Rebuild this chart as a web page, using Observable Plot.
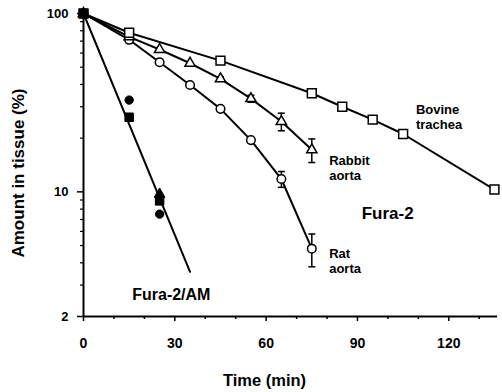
<!DOCTYPE html>
<html>
<head>
<meta charset="utf-8">
<script src="https://cdn.jsdelivr.net/npm/d3@7"></script>
<script src="https://cdn.jsdelivr.net/npm/@observablehq/plot@0.6"></script>
<style>
  html, body { margin: 0; padding: 0; background: #fff; }
  #chart svg { display: block; }
</style>
</head>
<body>
<div id="chart"></div>
<script>
// ---- data ----
const bovineTime   = [0, 15, 45, 75, 85, 95, 105, 135];
const bovineValue  = [100, 78, 54.4, 35.7, 30.0, 25.4, 21.1, 10.3];
const bovineErr    = [0, 0, 0, 0, 0.6, 0.9, 0, 0];

const rabbitTime   = [0, 15, 25, 35, 45, 55, 65, 75];
const rabbitValue  = [100, 74, 62.8, 52.6, 43.0, 33.3, 24.8, 17.2];
const rabbitErr    = [0, 0, 0, 0, 1.2, 1.5, 2.8, 2.6];

const ratTime      = [0, 15, 25, 35, 45, 55, 65, 75];
const ratValue     = [100, 71.2, 53.3, 39.7, 29.2, 19.5, 11.8, 4.8];
const ratErr       = [0, 0, 0, 0, 0.8, 0.6, 1.2, 1.0];

const amTime       = [0, 15, 15, 25, 25, 25];
const amValue      = [100, 26.2, 32.7, 8.9, 9.7, 7.5];
const amShape      = ["square", "square", "circle", "square", "triangle", "circle"];
const amFitTime    = [0, 35];
const amFitValue   = [100, 3.56];

const xTickValues  = [0, 30, 60, 90, 120];
const xMinorTicks  = [10, 20, 40, 50, 70, 80, 100, 110, 130];
const yTickValues  = [2, 10, 100];
const yMinorTicks  = [3, 4, 5, 6, 7, 8, 9, 20, 30, 40, 50, 60, 70, 80, 90];

const seriesNames  = ["Bovine\ntrachea", "Rabbit\naorta", "Rat\naorta"];
const dyeLabels    = ["Fura-2", "Fura-2/AM"];
const xLabel       = "Time (min)";
const yLabel       = "Amount in tissue (%)";

// ---- build tables ----
const toRows = (ts, vs, es) => ts.map((t, i) => ({t, v: vs[i], e: es ? es[i] : 0}));
const bovine = toRows(bovineTime, bovineValue, bovineErr);
const rabbit = toRows(rabbitTime, rabbitValue, rabbitErr);
const rat    = toRows(ratTime, ratValue, ratErr);
const am     = amTime.map((t, i) => ({t, v: amValue[i], s: amShape[i]}));
const amFit  = amFitTime.map((t, i) => ({t, v: amFitValue[i]}));
const errRows = [...bovine, ...rabbit, ...rat].filter(d => d.e > 0);

const capSymbol = {draw(ctx) { ctx.moveTo(-3.5, 0); ctx.lineTo(3.5, 0); }};
const FONT = "'Liberation Sans', Arial, Helvetica, sans-serif";

const openDot = (data, symbol, r) => Plot.dot(data, {
  x: "t", y: "v", symbol, r, fill: "white", stroke: "black", strokeWidth: 1.5
});
const filledDot = (shape, r) => Plot.dot(am.filter(d => d.s === shape), {
  x: "t", y: "v", symbol: shape, r, fill: "black", stroke: "black", strokeWidth: 1
});

const chart = Plot.plot({
  width: 502,
  height: 392,
  marginLeft: 83,
  marginRight: 5,
  marginTop: 13,
  marginBottom: 76,
  style: {fontFamily: FONT, fontWeight: "bold", fontSize: "13px", color: "black", background: "white"},
  x: {domain: [0, 136]},
  y: {type: "log", domain: [2, 100]},
  marks: [
    // axes
    Plot.axisX({ticks: xTickValues, tickSize: 5, tickPadding: 17, fontSize: 14, fontWeight: "bold", strokeWidth: 1.5, label: null, tickFormat: d => String(d)}),
    Plot.axisX({ticks: xMinorTicks, tickSize: 3, strokeWidth: 1.5, label: null, tickFormat: () => ""}),
    Plot.axisY({ticks: yTickValues, tickSize: 6, tickPadding: 9, fontSize: 13, fontWeight: "bold", strokeWidth: 1.5, label: null, tickFormat: d => String(d)}),
    Plot.axisY({ticks: yMinorTicks, tickSize: 3, strokeWidth: 1.2, label: null, tickFormat: () => ""}),
    Plot.ruleX([0], {strokeWidth: 2}),
    Plot.ruleY([2], {strokeWidth: 2}),
    // axis titles
    Plot.text([yLabel], {frameAnchor: "left", textAnchor: "middle", lineAnchor: "middle", rotate: -90, dx: -65, dy: 8, fontSize: 17, fontWeight: "bold"}),
    Plot.text([xLabel], {frameAnchor: "bottom", textAnchor: "middle", lineAnchor: "middle", dx: -26, dy: 64, fontSize: 16.5, fontWeight: "bold"}),
    // lines
    Plot.line(amFit, {x: "t", y: "v", strokeWidth: 2}),
    Plot.line(bovine, {x: "t", y: "v", strokeWidth: 2}),
    Plot.line(rabbit, {x: "t", y: "v", strokeWidth: 2}),
    Plot.line(rat, {x: "t", y: "v", strokeWidth: 2}),
    // error bars
    Plot.ruleX(errRows, {x: "t", y1: d => d.v - d.e, y2: d => d.v + d.e, strokeWidth: 1.5}),
    Plot.dot(errRows, {x: "t", y: d => d.v - d.e, symbol: capSymbol, fill: "none", stroke: "black", strokeWidth: 1.5}),
    Plot.dot(errRows, {x: "t", y: d => d.v + d.e, symbol: capSymbol, fill: "none", stroke: "black", strokeWidth: 1.5}),
    // markers
    openDot(rat, "circle", 4.3),
    openDot(rabbit, "triangle", 3.8),
    openDot(bovine, "square", 5),
    filledDot("square", 4.8),
    filledDot("circle", 4.2),
    filledDot("triangle", 4),
    // annotations
    Plot.text([seriesNames[0]], {x: 109.2, y: 26.3, textAnchor: "start", lineHeight: 1.15, fontSize: 13}),
    Plot.text([seriesNames[1]], {x: 80.7, y: 13.7, textAnchor: "start", lineHeight: 1.15, fontSize: 13}),
    Plot.text([seriesNames[2]], {x: 80.7, y: 4.13, textAnchor: "start", lineHeight: 1.15, fontSize: 13}),
    Plot.text([dyeLabels[0]], {x: 91.4, y: 7.53, textAnchor: "start", fontSize: 17}),
    Plot.text([dyeLabels[1]], {x: 16.0, y: 2.64, textAnchor: "start", fontSize: 16})
  ]
});
document.getElementById("chart").appendChild(chart);
</script>
</body>
</html>
